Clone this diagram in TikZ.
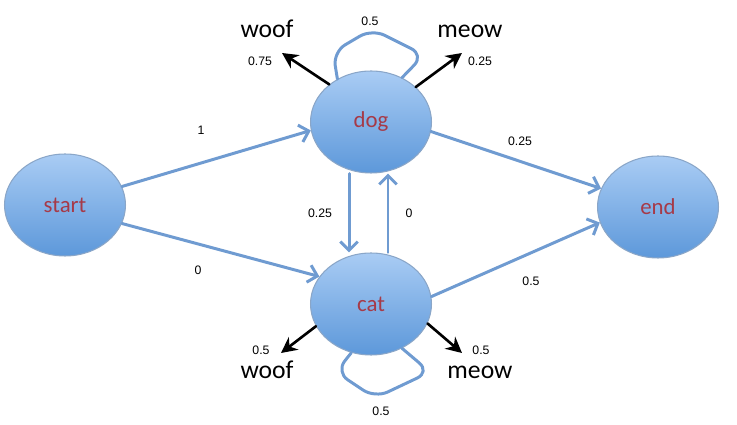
\documentclass[tikz,border=0pt]{standalone}
\usepackage{fontspec}
\setmainfont{Carlito}
\newfontfamily\numfont{Liberation Sans}
\usetikzlibrary{arrows.meta,shapes.geometric}
\definecolor{statetop}{HTML}{A9CCF4}
\definecolor{statebot}{HTML}{5D98DA}
\definecolor{stateline}{HTML}{8AA6C8}
\definecolor{statetext}{HTML}{A63A48}
\definecolor{arrowblue}{HTML}{6F9BD1}

\begin{document}
\begin{tikzpicture}[x=0.02cm,y=-0.02cm, line join=round, line cap=round, >=Stealth]
	\tikzset{
		state/.style={ellipse, draw=stateline, line width=0.6pt, top color=statetop, bottom color=statebot,
			minimum width=2.42cm, minimum height=2.04cm, text=statetext, font=\fontsize{13}{15}\selectfont},
		trans/.style={draw=arrowblue, line width=1.7pt, -{Straight Barb[length=5pt,width=10pt]}},
		emit/.style={draw=black, line width=1.5pt, -{Stealth[length=9pt,width=9pt]}},
		selfloop/.style={draw=arrowblue, line width=1.7pt, rounded corners=8pt},
		prob/.style={font=\numfont\fontsize{7}{8}\selectfont, inner sep=0pt},
		sym/.style={font=\fontsize{14.6}{16}\selectfont, inner sep=0pt, anchor=base}
	}
	\useasboundingbox (0,0) rectangle (737,425);
	% states
	\node[state] (start) at (65,205) {start};
	\node[state] (dog) at (371,122) {dog};
	\node[state] (cat) at (371,304) {cat};
	\node[state] (end) at (658,207) {end};
	% emitted symbols
	\node[sym] (dogwoof) at (267,38) {woof};
	\node[sym] (dogmeow) at (470,38) {meow};
	\node[sym] (catwoof) at (267,378) {woof};
	\node[sym] (catmeow) at (480,378) {meow};
	\coordinate (dw) at (282,53);
	\coordinate (dm) at (462,53);
	\coordinate (cw) at (281,353);
	\coordinate (cm) at (462,353);
	% transitions
	\draw[trans] (start.18) -- (dog.188);
	\draw[trans] (start.342) -- (cat.152);
	\draw[trans] ([xshift=-0.44cm]dog.south) -- ([xshift=-0.44cm]cat.north);
	\draw[trans] ([xshift=0.34cm]cat.north) -- ([xshift=0.34cm]dog.south);
	\draw[trans] (dog.351) -- (end.162);
	\draw[trans] (cat.7) -- (end.195);
	\draw[selfloop] (dog.128) -- (333,52) -- (372,29) -- (424,55) -- (dog.55);
	\draw[selfloop] (cat.248) -- (336,372) -- (375,398) -- (430,372) -- (cat.305);
	% emissions
	\draw[emit] (dog.138) -- (dw);
	\draw[emit] (dog.38) -- (dm);
	\draw[emit] (cat.202) -- (cw);
	\draw[emit] (cat.341) -- (cm);
	% probabilities
	\node[prob] (pdd) at (370,21) {0.5};
	\node[prob] (pdw) at (260,61) {0.75};
	\node[prob] (pdm) at (480,61) {0.25};
	\node[prob] (psd) at (201,130) {1};
	\node[prob] (psc) at (198,270) {0};
	\node[prob] (pdc) at (320,213) {0.25};
	\node[prob] (pcd) at (409,213) {0};
	\node[prob] (pde) at (520,141) {0.25};
	\node[prob] (pce) at (531,281) {0.5};
	\node[prob] (pcw) at (261,350) {0.5};
	\node[prob] (pcm) at (481,350) {0.5};
	\node[prob] (pcc) at (381,411) {0.5};
\end{tikzpicture}
\end{document}
